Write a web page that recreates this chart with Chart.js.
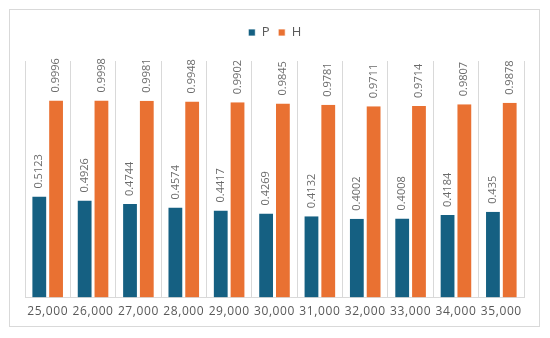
<!DOCTYPE html>
<html>
<head>
<meta charset="utf-8">
<script src="https://cdn.jsdelivr.net/npm/chart.js@4/dist/chart.umd.min.js"></script>
<style>
  html, body { margin: 0; padding: 0; background: #fff; }
  .frame {
    position: absolute; left: 9px; top: 9px;
    width: 531px; height: 318px;
    border: 1px solid #d9d9d9; box-sizing: border-box;
  }
  canvas { display: block; }
</style>
</head>
<body>
<div class="frame"><canvas id="chart" width="529" height="316"></canvas></div>
<script>
// ---- Data ----
const categories = ['25,000','26,000','27,000','28,000','29,000','30,000','31,000','32,000','33,000','34,000','35,000'];
const valuesP    = [0.5123, 0.4926, 0.4744, 0.4574, 0.4417, 0.4269, 0.4132, 0.4002, 0.4008, 0.4184, 0.435];
const valuesH    = [0.9996, 0.9998, 0.9981, 0.9948, 0.9902, 0.9845, 0.9781, 0.9711, 0.9714, 0.9807, 0.9878];

// ---- Extra room under the legend ----
const legendGap = {
  id: 'legendGap',
  beforeInit(chart) {
    const fit = chart.legend.fit;
    chart.legend.fit = function () {
      fit.call(this);
      this.height += 12;
    };
  }
};

// ---- Slight letter spacing for axis text ----
const spacing = {
  id: 'spacing',
  beforeDraw(chart) { chart.ctx.letterSpacing = '0.6px'; },
  beforeDatasetsDraw(chart) { chart.ctx.letterSpacing = '0px'; }
};

// ---- Rotated value labels above each bar ----
const barLabels = {
  id: 'barLabels',
  afterDatasetsDraw(chart) {
    const ctx = chart.ctx;
    ctx.save();
    ctx.font = '11px "Open Sans", sans-serif';
    ctx.fillStyle = '#6b6b6b';
    ctx.textAlign = 'left';
    ctx.textBaseline = 'middle';
    chart.data.datasets.forEach((ds, i) => {
      chart.getDatasetMeta(i).data.forEach((bar, j) => {
        ctx.save();
        ctx.translate(bar.x, bar.y - 8);
        ctx.rotate(-Math.PI / 2);
        ctx.fillText(String(ds.data[j]), 0, 0);
        ctx.restore();
      });
    });
    ctx.restore();
  }
};

new Chart(document.getElementById('chart'), {
  type: 'bar',
  data: {
    labels: categories,
    datasets: [
      { label: 'P', data: valuesP, backgroundColor: '#156082', borderColor: '#ffffff', borderWidth: { left: 1.5, right: 1.5 }, borderSkipped: 'bottom' },
      { label: 'H', data: valuesH, backgroundColor: '#E97132', borderColor: '#ffffff', borderWidth: { left: 1.5, right: 1.5 }, borderSkipped: 'bottom' }
    ]
  },
  options: {
    responsive: false,
    animation: false,
    categoryPercentage: 0.74,
    barPercentage: 1.0,
    layout: { padding: { left: 15, right: 15, top: 8, bottom: 0 } },
    plugins: {
      legend: {
        position: 'top',
        labels: { boxWidth: 7, boxHeight: 7, padding: 8, color: '#595959', font: { family: 'Open Sans', size: 13 } }
      },
      tooltip: { enabled: false }
    },
    scales: {
      x: {
        grid: { color: '#d9d9d9', drawTicks: false, offset: true },
        border: { color: '#d9d9d9' },
        ticks: { color: '#595959', padding: 7, font: { family: 'Open Sans', size: 12 } }
      },
      y: { display: false, min: 0, max: 1.2 }
    }
  },
  plugins: [legendGap, spacing, barLabels]
});
</script>
</body>
</html>
